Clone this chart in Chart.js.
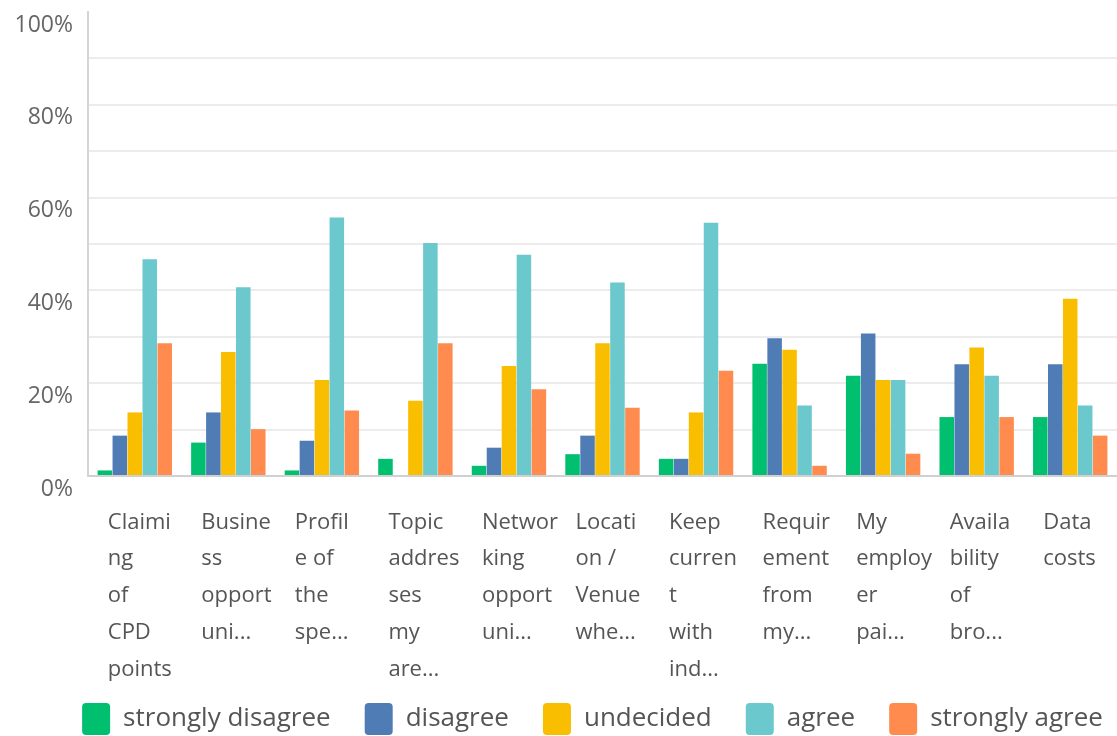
<!DOCTYPE html>
<html>
<head>
<meta charset="utf-8">
<script src="https://cdn.jsdelivr.net/npm/chart.js@4.4.1/dist/chart.umd.min.js"></script>
<style>
  html, body { margin: 0; padding: 0; background: #fff; }
  #wrap { width: 1117px; height: 736px; }
</style>
</head>
<body>
<div id="wrap"><canvas id="chart"></canvas></div>
<script>
const categories = [
  ["Claimi", "ng", "of", "CPD", "points"],
  ["Busine", "ss", "opport", "uni..."],
  ["Profil", "e of", "the", "spe..."],
  ["Topic", "addres", "ses", "my", "are..."],
  ["Networ", "king", "opport", "uni..."],
  ["Locati", "on /", "Venue", "whe..."],
  ["Keep", "curren", "t", "with", "ind..."],
  ["Requir", "ement", "from", "my..."],
  ["My", "employ", "er", "pai..."],
  ["Availa", "bility", "of", "bro..."],
  ["Data", "costs"]
];

const stronglyDisagree = [1.2, 7.2, 1.2, 3.7, 2.2, 4.7, 3.7, 24.2, 21.6, 12.7, 12.7];
const disagree         = [8.7, 13.7, 7.6, 0, 6.1, 8.7, 3.7, 29.7, 30.7, 24.1, 24.1];
const undecided        = [13.7, 26.7, 20.7, 16.2, 23.7, 28.6, 13.7, 27.2, 20.7, 27.7, 38.2];
const agree            = [46.7, 40.7, 55.7, 50.2, 47.7, 41.7, 54.6, 15.2, 20.7, 21.6, 15.2];
const stronglyAgree    = [28.6, 10.1, 14.1, 28.6, 18.7, 14.7, 22.7, 2.2, 4.8, 12.7, 8.7];

const yTicks = [0, 20, 40, 60, 80, 100];

const series = [
  { label: "strongly disagree", data: stronglyDisagree, color: "#00BF6F" },
  { label: "disagree", data: disagree, color: "#507CB6" },
  { label: "undecided", data: undecided, color: "#F9BE00" },
  { label: "agree", data: agree, color: "#6BC8CD" },
  { label: "strongly agree", data: stronglyAgree, color: "#FF8B4F" }
];

// nudge the legend to where the survey tool puts it,
// and let the long x labels run past the axis box (labels are clipped to it)
const layoutTweaks = {
  id: "layoutTweaks",
  afterLayout(chart) {
    const lg = chart.legend;
    lg.left += 34; lg.right += 34;
    lg.top += 9; lg.bottom += 9;
    chart.scales.x.bottom = chart.height;
  }
};

new Chart(document.getElementById("chart"), {
  type: "bar",
  data: {
    labels: categories,
    datasets: series.map(s => ({
      label: s.label,
      data: s.data,
      backgroundColor: s.color,
      borderWidth: 0,
      categoryPercentage: 0.8,
      barPercentage: 0.97
    }))
  },
  plugins: [layoutTweaks],
  options: {
    responsive: true,
    maintainAspectRatio: false,
    animation: false,
    layout: { padding: 0 },
    plugins: {
      tooltip: { enabled: false },
      legend: {
        position: "bottom",
        labels: {
          boxWidth: 28,
          boxHeight: 32,
          useBorderRadius: true,
          borderRadius: 4,
          padding: 34,
          color: "#555",
          font: { family: "'Open Sans', sans-serif", size: 26 }
        }
      }
    },
    scales: {
      x: {
        afterFit: scale => {
          scale.height = 184;
          scale.paddingLeft = 0;
          scale.paddingRight = 0;
        },
        grid: { display: false, drawTicks: false },
        border: { display: true, color: "#d0d0d0", width: 2 },
        ticks: {
          autoSkip: false,
          maxRotation: 0,
          minRotation: 0,
          align: "start",
          labelOffset: -27,
          padding: 28,
          color: "#555",
          font: { family: "'Open Sans', sans-serif", size: 22, lineHeight: 1.67 }
        }
      },
      y: {
        min: 0,
        max: 100,
        afterFit: scale => {
          scale.width = 88;
          scale.paddingTop = 12;
          scale.paddingBottom = 0;
        },
        grid: {
          drawTicks: false,
          lineWidth: 2,
          color: ctx => ctx.tick && ctx.tick.value === 100 ? "rgba(0,0,0,0)" : "#ececec"
        },
        border: { display: true, color: "#d5d5d5", width: 2 },
        ticks: {
          stepSize: 10,
          padding: 15,
          labelOffset: 13,
          color: "#666",
          font: { family: "'Open Sans', sans-serif", size: 23 },
          callback: v => yTicks.includes(v) ? v + "%" : ""
        }
      }
    }
  }
});
</script>
</body>
</html>
